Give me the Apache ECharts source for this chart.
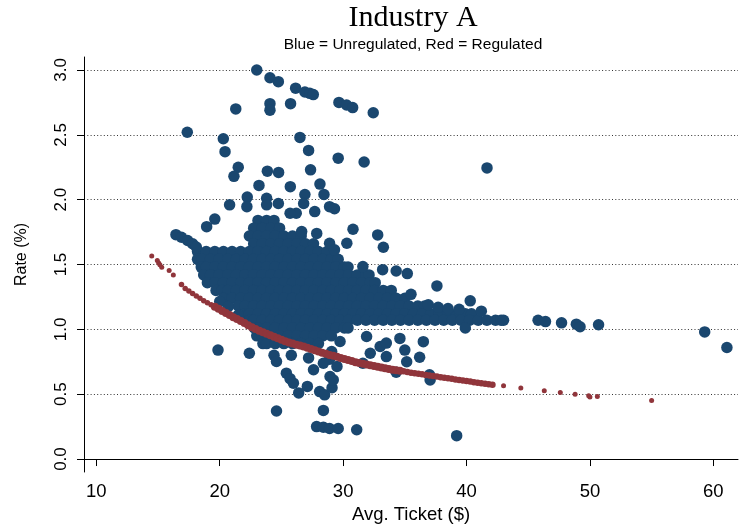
<!DOCTYPE html>
<html>
<head>
<meta charset="utf-8">
<script src="https://cdn.jsdelivr.net/npm/echarts@6/dist/echarts.min.js"></script>
<style>
  html, body { margin: 0; padding: 0; background: #ffffff; }
  #chart { width: 740px; height: 530px; }
</style>
</head>
<body>
<div id="chart"></div>
<script>
// Axis ticks
const xTicks = [10, 20, 30, 40, 50, 60];
const yTicks = [0, 0.5, 1, 1.5, 2, 2.5, 3];

// Unregulated merchants: dense core, one row of points per rate level [rate, [tickets...]]
const unregCoreRows = [
  [1.84, [23.1, 23.8, 24.4]],
  [1.78, [22.75, 23.45, 24.15, 24.85]],
  [1.72, [22.4, 23.1, 23.8, 24.5, 25.2, 25.9, 26.6]],
  [1.66, [22.75, 23.45, 24.15, 24.85, 25.55, 26.25, 26.95, 27.6]],
  [1.60, [18.2, 18.9, 19.6, 20.3, 21.0, 21.7, 22.4, 23.1, 23.8, 24.5, 25.2, 25.9, 26.6, 27.3, 28.0, 28.7]],
  [1.54, [18.2, 18.55, 19.25, 19.95, 20.65, 21.35, 22.05, 22.75, 23.45, 24.15, 24.85, 25.55, 26.25, 26.95, 27.65, 28.35, 29.05, 29.6]],
  [1.48, [18.5, 18.9, 19.6, 20.3, 21.0, 21.7, 22.4, 23.1, 23.8, 24.5, 25.2, 25.9, 26.6, 27.3, 28.0, 28.7, 29.4, 30.1, 30.4]],
  [1.42, [18.7, 19.25, 19.95, 20.65, 21.35, 22.05, 22.75, 23.45, 24.15, 24.85, 25.55, 26.25, 26.95, 27.65, 28.35, 29.05, 29.75, 30.45, 31.15, 31.85, 32.1]],
  [1.36, [19.0, 19.6, 20.3, 21.0, 21.7, 22.4, 23.1, 23.8, 24.5, 25.2, 25.9, 26.6, 27.3, 28.0, 28.7, 29.4, 30.1, 30.8, 31.5, 32.2, 32.6]],
  [1.30, [19.7, 20.2, 20.65, 21.35, 22.05, 22.75, 23.45, 24.15, 24.85, 25.55, 26.25, 26.95, 27.65, 28.35, 29.05, 29.75, 30.45, 31.15, 31.85, 32.55, 33.25, 33.9]],
  [1.24, [20.3, 21.0, 21.7, 22.4, 23.1, 23.8, 24.5, 25.2, 25.9, 26.6, 27.3, 28.0, 28.7, 29.4, 30.1, 30.8, 31.5, 32.2, 32.9, 33.6, 34.3, 35.0]],
  [1.18, [21.5, 22.05, 22.75, 23.45, 24.15, 24.85, 25.55, 26.25, 26.95, 27.65, 28.35, 29.05, 29.75, 30.45, 31.15, 31.85, 32.55, 33.25, 33.95, 34.65, 35.35, 36.05, 36.6]],
  [1.12, [22.1, 22.4, 23.1, 23.8, 24.5, 25.2, 25.9, 26.6, 27.3, 28.0, 28.7, 29.4, 30.1, 30.8, 31.5, 32.2, 32.9, 33.6, 34.3, 35.0, 35.7, 36.4, 37.1, 37.8, 38.5, 39.2, 39.9, 40.4]],
  [1.07, [22.4, 22.75, 23.45, 24.15, 24.85, 25.55, 26.25, 26.95, 27.65, 28.35, 29.05, 29.75, 30.45, 31.15, 31.85, 32.55, 33.25, 33.95, 34.65, 35.35, 36.05, 36.75, 37.45, 38.15, 38.85, 39.55, 40.25, 40.95, 41.65, 42.35, 42.8]],
  [1.01, [22.8, 23.1, 23.8, 24.5, 25.2, 25.9, 26.6, 27.3, 28.0, 28.7, 29.4, 30.1, 30.4]],
  [0.95, [23.0, 23.45, 24.15, 24.85, 25.55, 26.25, 26.95, 27.65, 28.35, 29.05]],
  [0.89, [23.5, 23.8, 24.5, 25.2, 25.9, 26.6, 27.3, 28.0]]
];

// Unregulated merchants outside the core [ticket, rate]
const unregUpper = [
  [23.0, 3.0], [24.07, 2.94], [24.75, 2.91], [26.15, 2.86], [26.9, 2.83], [27.3, 2.82], [27.58, 2.81],
  [21.3, 2.70], [24.07, 2.74], [24.07, 2.69], [25.74, 2.74], [29.66, 2.75], [30.28, 2.73], [30.77, 2.71],
  [32.44, 2.67], [17.37, 2.52], [20.29, 2.47], [26.5, 2.48], [20.43, 2.37], [27.2, 2.38], [29.6, 2.32],
  [31.7, 2.29], [21.5, 2.25], [21.15, 2.18], [23.86, 2.22], [24.77, 2.21], [27.36, 2.23], [23.18, 2.11],
  [25.72, 2.10], [28.12, 2.12], [22.23, 2.02], [23.8, 2.01], [26.9, 2.04], [28.45, 2.04], [41.66, 2.245]
];
const unregMid = [
  [22.2, 1.946], [23.8, 1.96], [24.75, 1.97], [20.8, 1.96], [26.8, 1.97], [26.2, 1.895], [25.7, 1.895],
  [27.7, 1.908], [28.9, 1.946], [29.3, 1.93], [18.94, 1.792], [19.6, 1.85], [30.8, 1.772], [32.8, 1.728],
  [33.26, 1.633], [30.3, 1.664], [28.9, 1.664], [29.3, 1.613], [26.64, 1.754], [27.86, 1.74],
  [16.45, 1.73], [16.9, 1.71], [17.4, 1.685], [17.8, 1.66], [18.1, 1.635],
  [31.6, 1.484], [33.2, 1.46], [34.3, 1.45], [35.2, 1.43], [37.6, 1.335], [35.5, 1.27], [40.3, 1.22],
  [36.9, 1.19], [37.7, 1.17], [38.5, 1.16], [39.4, 1.155], [41.2, 1.14],
  [39.9, 1.01], [43.0, 1.07], [45.8, 1.07], [46.4, 1.06], [47.7, 1.05], [48.9, 1.04], [49.2, 1.02],
  [50.7, 1.035], [59.3, 0.98], [61.1, 0.86], [20.0, 1.214], [20.7, 1.176], [21.5, 1.11]
];
const unregLower = [
  [29.75, 0.906], [31.9, 0.945], [33.0, 0.868], [33.5, 0.894], [34.6, 0.93], [36.5, 0.905], [35.0, 0.84],
  [36.2, 0.785], [33.5, 0.79], [35.15, 0.75], [32.2, 0.816], [31.6, 0.739], [34.3, 0.67], [37.0, 0.65],
  [37.05, 0.61], [29.07, 0.829], [19.86, 0.84], [22.4, 0.816], [24.4, 0.80], [25.8, 0.80], [27.2, 0.78],
  [28.9, 0.77], [24.6, 0.752], [25.4, 0.662], [25.7, 0.62], [25.97, 0.585], [27.1, 0.56], [26.4, 0.51],
  [27.6, 0.688], [28.4, 0.739], [28.1, 0.52], [28.5, 0.495], [28.94, 0.636], [29.1, 0.55], [29.2, 0.61],
  [29.5, 0.714], [24.6, 0.37], [28.4, 0.375], [27.85, 0.25], [28.4, 0.245], [28.9, 0.235], [29.6, 0.235],
  [31.1, 0.226], [39.2, 0.18]
];

// Regulated merchants: the dense band [ticket, rate], split by band thickness
const regBandLeft = [
  [16.9, 1.345], [17.2, 1.315], [17.5, 1.295], [17.8, 1.277], [18.1, 1.258], [18.4, 1.239], [18.7, 1.220],
  [19.0, 1.205], [19.3, 1.190]
];
const regBandMid = [
  [19.6, 1.175], [19.9, 1.158], [20.2, 1.142], [20.5, 1.126], [20.8, 1.110],
  [21.1, 1.094], [21.4, 1.079], [21.7, 1.064], [22.0, 1.048], [22.3, 1.032], [22.6, 1.016], [22.9, 1.002],
  [23.2, 0.989], [23.5, 0.977], [23.8, 0.966], [24.1, 0.954], [24.4, 0.943], [24.7, 0.931], [25.0, 0.920],
  [25.3, 0.909], [25.6, 0.899], [25.9, 0.890], [26.2, 0.882], [26.5, 0.875], [26.8, 0.867], [27.1, 0.858],
  [27.4, 0.848], [27.7, 0.839], [28.0, 0.829], [28.3, 0.819], [28.6, 0.811], [28.9, 0.803], [29.2, 0.796],
  [29.5, 0.788], [29.8, 0.780], [30.1, 0.772], [30.4, 0.763], [30.7, 0.755], [31.0, 0.747], [31.3, 0.740],
  [31.6, 0.734], [31.9, 0.728], [32.2, 0.723], [32.5, 0.718], [32.8, 0.712], [33.1, 0.706], [33.4, 0.700],
  [33.7, 0.695], [34.0, 0.689], [34.3, 0.685], [34.6, 0.680]
];
const regBandRight = [
  [34.9, 0.676], [35.2, 0.671], [35.5, 0.666],
  [35.8, 0.662], [36.1, 0.657], [36.4, 0.653], [36.7, 0.648], [37.0, 0.644], [37.3, 0.640], [37.6, 0.636],
  [37.9, 0.631], [38.2, 0.627], [38.5, 0.623], [38.8, 0.619], [39.1, 0.614], [39.4, 0.610], [39.7, 0.606],
  [40.0, 0.601], [40.3, 0.597], [40.6, 0.593], [40.9, 0.589], [41.2, 0.585], [41.5, 0.581], [41.8, 0.576],
  [42.1, 0.572]
];
// Regulated merchants at the sparse ends [ticket, rate]
const regSparse = [
  [14.49, 1.566], [14.94, 1.530], [15.05, 1.512], [15.15, 1.498], [15.30, 1.479], [15.90, 1.453],
  [16.24, 1.420], [43.0, 0.565], [44.4, 0.547], [46.3, 0.526], [47.6, 0.513], [48.8, 0.500],
  [49.9, 0.488], [50.0, 0.478], [50.6, 0.482], [55.0, 0.452]
];

const BLUE = '#1a476f';
const RED = '#90353b';
const SANS = '"Liberation Sans", Arial, sans-serif';

const unregulated = unregCoreRows
  .flatMap(([rate, tickets]) => tickets.map(t => [t, rate]))
  .concat(unregUpper, unregMid, unregLower);

function redSeries(name, data, size) {
  return {
    name, type: 'scatter', data, symbol: 'circle', symbolSize: size, clip: false,
    itemStyle: { color: RED, opacity: 1 }
  };
}

const chart = echarts.init(document.getElementById('chart'), null, { renderer: 'canvas' });

chart.setOption({
  backgroundColor: '#ffffff',
  animation: false,
  title: [
    {
      text: 'Industry A',
      left: 413, top: 3, textAlign: 'center', padding: 0,
      textStyle: { fontFamily: '"Liberation Serif", "Times New Roman", serif', fontWeight: 'normal', fontSize: 30, color: '#000' }
    },
    {
      text: 'Blue = Unregulated, Red = Regulated',
      left: 413, top: 37, textAlign: 'center', padding: 0,
      textStyle: { fontFamily: SANS, fontWeight: 'normal', fontSize: 15.5, color: '#000' }
    }
  ],
  grid: { left: 84, right: 2, top: 57, bottom: 58, containLabel: false },
  xAxis: {
    type: 'value', min: 9, max: 62,
    name: 'Avg. Ticket ($)', nameLocation: 'middle', nameGap: 27,
    nameTextStyle: { fontFamily: SANS, fontSize: 18.5, color: '#000' },
    axisLine: { show: true, lineStyle: { color: '#000', width: 1 } },
    axisTick: { show: true, length: 7, customValues: xTicks, lineStyle: { color: '#000', width: 1 } },
    axisLabel: { customValues: xTicks, margin: 10, fontFamily: SANS, fontSize: 18.5, color: '#000' },
    splitLine: { show: false }
  },
  yAxis: {
    type: 'value', min: -0.1, max: 3.1,
    name: 'Rate (%)', nameLocation: 'middle', nameGap: 54, nameRotate: 90,
    nameTextStyle: { fontFamily: SANS, fontSize: 16, color: '#000', padding: [0, 0, 0, 20] },
    axisLine: { show: true, lineStyle: { color: '#000', width: 1 } },
    axisTick: { show: true, length: 7, customValues: yTicks, lineStyle: { color: '#000', width: 1 } },
    axisLabel: {
      customValues: yTicks, rotate: 90, margin: 14, fontFamily: SANS, fontSize: 17, color: '#000',
      formatter: v => v.toFixed(1)
    },
    splitLine: { show: true, lineStyle: { color: '#333', width: 1, type: [1, 2.3] } }
  },
  series: [
    {
      name: 'Unregulated', type: 'scatter', data: unregulated,
      symbol: 'circle', symbolSize: 11.5, clip: false,
      itemStyle: { color: BLUE, opacity: 1 }
    },
    redSeries('Regulated (left)', regBandLeft, 5.5),
    redSeries('Regulated (mid)', regBandMid, 8),
    redSeries('Regulated (right)', regBandRight, 6.5),
    redSeries('Regulated', regSparse, 5)
  ]
});
</script>
</body>
</html>
